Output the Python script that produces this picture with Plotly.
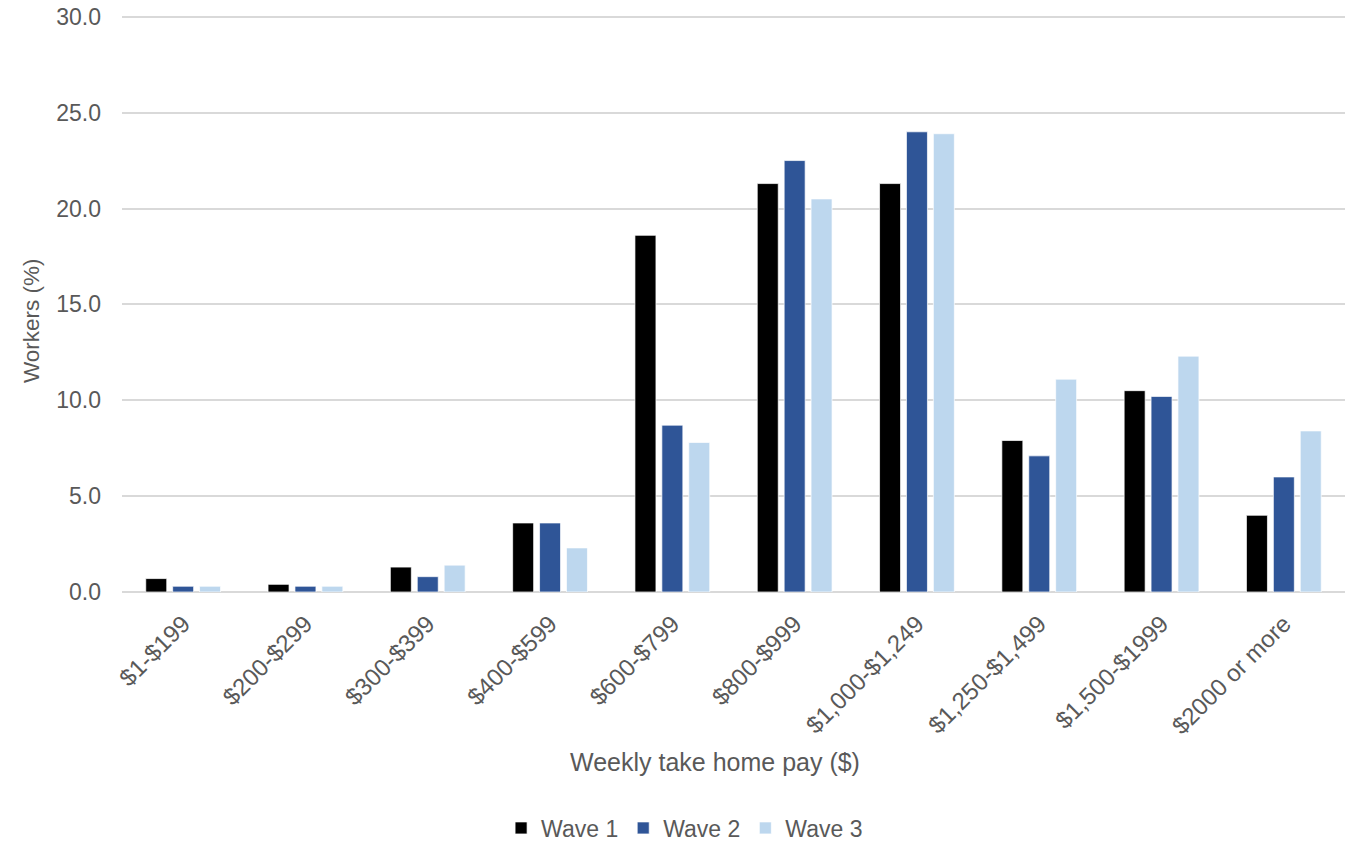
import plotly.graph_objects as go

categories = ["$1-$199", "$200-$299", "$300-$399", "$400-$599", "$600-$799",
              "$800-$999", "$1,000-$1,249", "$1,250-$1,499", "$1,500-$1999", "$2000 or more"]
wave1 = [0.7, 0.4, 1.3, 3.6, 18.6, 21.3, 21.3, 7.9, 10.5, 4.0]
wave2 = [0.3, 0.3, 0.8, 3.6, 8.7, 22.5, 24.0, 7.1, 10.2, 6.0]
wave3 = [0.3, 0.3, 1.4, 2.3, 7.8, 20.5, 23.9, 11.1, 12.3, 8.4]
series_names = ["Wave 1", "Wave 2", "Wave 3"]
colors = ["#000000", "#2F5597", "#BDD7EE"]
y_ticks = [0, 5, 10, 15, 20, 25, 30]
x_title = "Weekly take home pay ($)"
y_title = "Workers (%)"

fig = go.Figure()
for name, vals, col in zip(series_names, [wave1, wave2, wave3], colors):
    fig.add_trace(go.Bar(x=categories, y=vals, name=name,
                         marker=dict(color=col, line=dict(color="white", width=0.7))))

font_color = "#595959"
plot_h = 841 - 249 - 11
fig.update_layout(
    width=1345, height=841,
    margin=dict(l=122, r=0, t=11, b=249, autoexpand=False),
    paper_bgcolor="white", plot_bgcolor="white",
    font=dict(family="Liberation Sans, Arial, sans-serif", color=font_color, size=22),
    barmode="group", bargap=0.34, bargroupgap=0.22,
    legend=dict(orientation="h", x=0.46, xanchor="center", y=-236 / plot_h, yanchor="middle",
                font=dict(size=23, color=font_color), itemwidth=30, traceorder="normal"),
    showlegend=True,
    annotations=[
        dict(text=x_title, xref="paper", yref="paper", x=0.485, y=-170 / plot_h,
             xanchor="center", yanchor="middle", showarrow=False,
             font=dict(size=25, color=font_color)),
        dict(text=y_title, xref="paper", yref="paper", x=-0.0744, y=271 / plot_h,
             xanchor="center", yanchor="middle", showarrow=False, textangle=-90,
             font=dict(size=22.5, color=font_color)),
    ],
)
fig.update_xaxes(
    tickangle=-45, tickfont=dict(size=24, color=font_color),
    showgrid=False, showline=False, ticks="", automargin=False, ticklabelstandoff=12,
)
fig.update_yaxes(
    range=[0, 30.3], tickvals=y_ticks, tickformat=".1f",
    tickfont=dict(size=23, color=font_color),
    showgrid=True, gridcolor="#D9D9D9", gridwidth=1.5,
    zeroline=True, zerolinecolor="#D9D9D9", zerolinewidth=1.5,
    showline=False, ticks="", automargin=False, ticklabelstandoff=20,
)
fig.write_html("out.html")
